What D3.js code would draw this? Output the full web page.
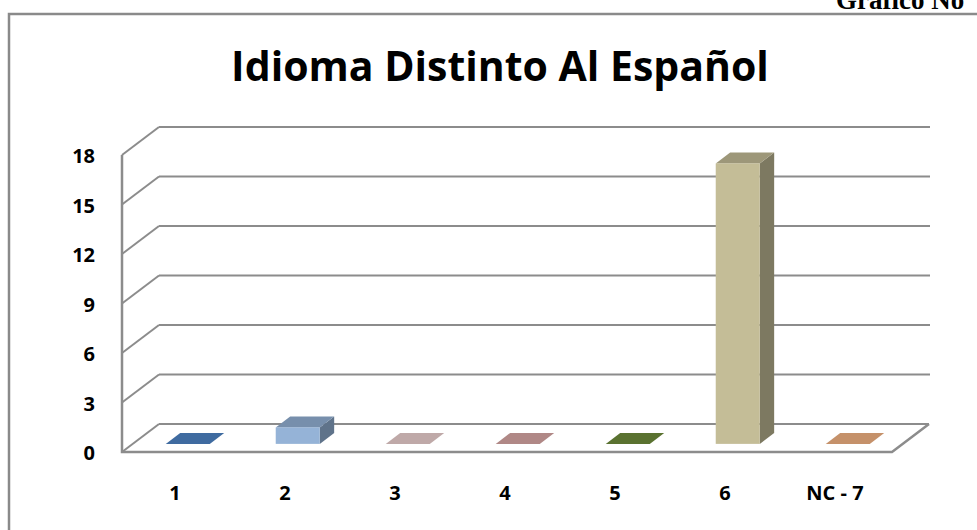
<!DOCTYPE html>
<html>
<head>
<meta charset="utf-8">
<script src="https://cdn.jsdelivr.net/npm/d3@7"></script>
<style>
  body{margin:0;background:#fff;}
  svg{display:block;}
</style>
</head>
<body>
<div id="grafico"></div>
<script>
// datos
var categorias=["1","2","3","4","5","6","NC - 7"];
var valores=[0,1,0,0,0,17,0];
var colores=["#4f86c8","#95b3d7","#efd3d2","#dcaaa7","#718f3c","#c4bd97","#f6b584"];
var ticksY=[0,3,6,9,12,15,18];
var titulo="Idioma Distinto Al Español";

var ancho=977, alto=530;
var prof={dx:37,dy:-28};   // profundidad del piso / pared
var barraIni=.29, barraFin=.68; // donde cae la barra en la profundidad

var svg=d3.select("#grafico").append("svg")
	.attr("width",ancho).attr("height",alto);

// marco del grafico
svg.append("path")
	.attr("d","M9,"+alto+"V14H"+ancho)
	.style("fill","none").style("stroke","#8a8a8a").style("stroke-width","2.5px");

svg.append("text")
	.attr("x",836).attr("y",9)
	.text("Gráfico No")
	.style("font-family","Liberation Serif").style("font-weight","700")
	.style("font-size","27px").style("fill","#000");

svg.append("text")
	.attr("x",500).attr("y",81)
	.attr("text-anchor","middle")
	.text(titulo)
	.style("font-family","Open Sans").style("font-weight","700")
	.style("font-size","41px").style("fill","#000");

var x=d3.scaleBand().domain(categorias).range([122,892]);
var y=d3.scaleLinear().domain([0,18]).range([452,155]);

var gris="#8c8c8c";
var rejilla=svg.append("g");
ticksY.forEach(function(t){
	// diagonal pared izquierda
	rejilla.append("line")
		.attr("x1",122).attr("y1",y(t))
		.attr("x2",122+prof.dx).attr("y2",y(t)+prof.dy)
		.style("stroke",gris).style("stroke-width","2px");
	// linea de la pared de fondo
	rejilla.append("line")
		.attr("x1",122+prof.dx).attr("y1",y(t)+prof.dy)
		.attr("x2",t==0?892+prof.dx:930).attr("y2",y(t)+prof.dy)
		.style("stroke",gris).style("stroke-width","2px");
});
// eje vertical y borde frontal del piso
rejilla.append("path")
	.attr("d","M122,"+y(18)+"V"+y(0)+"H892L"+(892+prof.dx)+","+(y(0)+prof.dy))
	.style("fill","none").style("stroke",gris).style("stroke-width","2.5px");

// etiquetas eje y
svg.selectAll(".etiy").data(ticksY).enter().append("text")
	.attr("class","etiy")
	.attr("x",95).attr("y",d=>y(d)+3)
	.attr("text-anchor","end").attr("dominant-baseline","middle")
	.text(d=>d)
	.style("font-family","Open Sans").style("font-weight","700")
	.style("font-size","20px").style("fill","#000");

// etiquetas eje x
svg.selectAll(".etix").data(categorias).enter().append("text")
	.attr("class","etix")
	.attr("x",d=>x(d)+x.bandwidth()/2-2).attr("y",500)
	.attr("text-anchor","middle")
	.text(d=>d)
	.style("font-family","Open Sans").style("font-weight","700")
	.style("font-size","20px").style("fill","#000");

function oscurecer(c,k){
	var r=d3.rgb(c);
	return d3.rgb(r.r*k,r.g*k,r.b*k).formatHex();
}

var anchoBarra=x.bandwidth()*.4;
var barras=svg.selectAll(".barra").data(categorias).enter().append("g").attr("class","barra");

barras.each(function(c,i){
	var g=d3.select(this);
	var x0=x(c)+(x.bandwidth()-anchoBarra)/2+barraIni*prof.dx;
	var yb=y(0)+barraIni*prof.dy;
	var h=y(0)-y(valores[i]);
	var yt=yb-h;
	var ddx=(barraFin-barraIni)*prof.dx, ddy=(barraFin-barraIni)*prof.dy;
	var x1=x0+anchoBarra;
	var col=colores[i];
	if(h>0){
		// cara lateral
		g.append("path")
			.attr("d",`M${x1},${yb}L${x1+ddx},${yb+ddy}L${x1+ddx},${yt+ddy}L${x1},${yt}Z`)
			.style("fill",oscurecer(col,.64));
	}
	// cara superior
	g.append("path")
		.attr("d",`M${x0},${yt}L${x0+ddx},${yt+ddy}L${x1+ddx},${yt+ddy}L${x1},${yt}Z`)
		.style("fill",oscurecer(col,.8));
	if(h>0){
		g.append("rect")
			.attr("x",x0).attr("y",yt)
			.attr("width",anchoBarra).attr("height",h)
			.style("fill",col);
	}
});
</script>
</body>
</html>
